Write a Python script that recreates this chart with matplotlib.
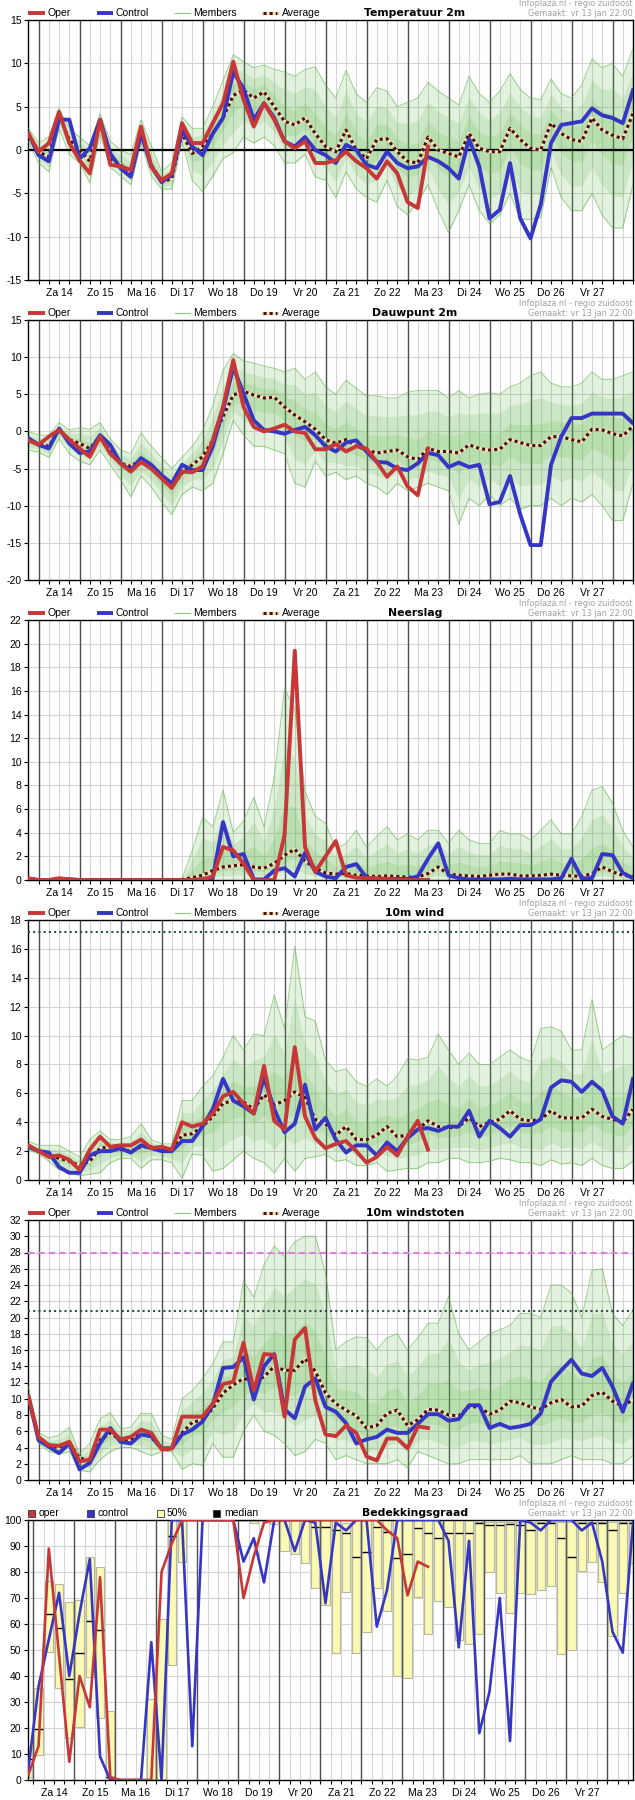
import numpy as np
import matplotlib
matplotlib.use("Agg")
import matplotlib.pyplot as plt
from matplotlib.lines import Line2D
from matplotlib.patches import Rectangle

# time axis: 6-hourly steps, index 0 = vr 13 jan 18:00, labels at noon
days = ["Za 14", "Zo 15", "Ma 16", "Di 17", "Wo 18", "Do 19", "Vr 20",
        "Za 21", "Zo 22", "Ma 23", "Di 24", "Wo 25", "Do 26", "Vr 27"]

# Temperatuur 2m
temp_oper = [1.9, -0.2, 0.8, 4.4, 0.8, -1.2, -2.7, 3.5, -1.7, -1.9, -2.3, 2.7, -1.9, -3.5, -2.7, 3.1, 0.8, 0.8, 3.1, 5.4,
             10.2, 5.8, 2.7, 5.4, 3.5, 1.0, 0.2, 1.0, -1.5, -1.5, -1.2, -0.2, -1.3, -2.1, -3.3, -1.3, -2.7, -6.0, -6.7, 0.4]
temp_ctrl = [1.9, -0.6, -1.3, 3.5, 3.5, -1.0, 0.2, 3.5, -0.4, -2.1, -3.1, 1.9, -1.9, -3.7, -2.9, 2.3, 0.4, -0.6, 1.9, 3.7,
             9.0, 7.1, 3.5, 5.4, 3.7, 1.0, 0.4, 1.5, 0.0, -0.6, -1.5, 0.6, 0.0, -1.7, -2.1, -0.2, -1.5, -2.1, -1.9, -0.8,
             -1.3, -2.1, -3.3, 1.3, -1.9, -7.9, -6.9, -1.5, -7.9, -10.2, -6.3, 0.8, 2.9, 3.1, 3.3, 4.8, 4.0, 3.7, 3.1, 6.9]
temp_avg = [1.9, -0.2, -0.8, 4.0, 1.2, 0.0, -1.3, 3.1, -1.0, -1.7, -2.7, 2.1, -1.7, -3.7, -3.3, 1.9, -0.4, 0.4, 1.9, 3.7,
            6.3, 6.9, 6.0, 6.7, 5.0, 3.3, 2.9, 3.7, 1.9, 0.4, -0.2, 2.3, 0.0, -1.0, 1.2, 1.3, -0.2, -1.3, -1.5, 1.5,
            0.0, -0.4, -0.8, 1.9, 0.2, -0.2, -0.2, 2.5, 1.2, 0.2, 0.0, 3.1, 1.9, 1.2, 1.0, 3.7, 2.3, 1.7, 1.3, 4.2]
temp_hi = [2.5, 0.8, 1.5, 4.8, 2.5, 1.5, 0.5, 4.2, 1.0, 0.0, -0.5, 3.5, 0.5, -2.5, -1.5, 3.8, 2.5, 2.5, 5.0, 8.0,
           11.0, 10.2, 9.5, 9.8, 9.3, 9.0, 8.5, 9.3, 9.6, 7.5, 6.0, 9.2, 6.5, 5.5, 7.2, 6.8, 5.0, 5.5, 6.0, 7.8,
           6.8, 6.0, 5.2, 8.5, 6.5, 5.5, 6.8, 8.8, 7.0, 6.0, 5.8, 8.2, 6.5, 6.0, 7.5, 10.5, 9.5, 10.0, 8.5, 11.7]
temp_lo = [1.0, -1.5, -2.5, 2.5, -0.5, -1.5, -3.8, 1.8, -2.0, -3.0, -4.0, 0.8, -3.0, -4.5, -4.5, 1.0, -3.5, -4.8, -3.0, -1.0,
           -0.3, 1.5, 0.8, 1.5, 0.5, -1.5, -1.5, -0.5, -3.1, -3.5, -5.5, -2.5, -4.5, -5.5, -6.0, -3.5, -6.5, -7.5, -6.0, -4.0,
           -7.0, -9.5, -7.0, -4.0, -7.0, -8.5, -7.5, -5.0, -8.0, -8.0, -7.8, -2.0, -5.5, -7.0, -7.0, -5.0, -7.5, -9.0, -9.0, -4.0]

# Dauwpunt 2m
dew_oper = [-1.2, -1.8, -0.7, 0.2, -1.1, -2.3, -3.4, -0.7, -3.0, -4.3, -5.4, -4.1, -5.0, -6.3, -7.6, -5.4, -5.5, -4.7, -1.2, 3.3,
            9.6, 3.3, 0.6, 0.0, 0.4, 0.9, 0.0, -0.2, -2.4, -2.4, -1.7, -2.7, -2.0, -2.3, -4.1, -6.1, -4.7, -7.4, -8.6, -2.3]
dew_ctrl = [-0.9, -1.8, -2.3, 0.4, -1.6, -2.9, -2.7, -0.5, -1.8, -4.3, -5.2, -3.6, -4.5, -5.9, -7.0, -4.5, -5.2, -5.2, -2.0, 2.9,
            8.7, 5.1, 1.5, 0.2, 0.0, -0.3, 0.2, 0.6, -0.5, -2.0, -2.7, -1.5, -1.2, -2.7, -4.1, -4.2, -5.0, -5.2, -4.3, -2.9,
            -3.2, -4.8, -4.2, -4.8, -4.5, -9.8, -9.5, -6.0, -11.2, -15.3, -15.3, -4.5, -0.7, 1.8, 1.8, 2.4, 2.4, 2.4, 2.4, 1.1]
dew_avg = [-1.2, -1.6, -2.0, 0.2, -1.1, -1.6, -2.3, -0.7, -2.7, -4.3, -4.7, -3.8, -4.7, -6.3, -7.6, -5.6, -4.5, -3.4, -1.2, 2.0,
           4.9, 5.4, 4.9, 4.5, 4.6, 3.3, 2.2, 1.3, 0.3, -1.1, -1.6, -1.1, -2.0, -2.5, -2.9, -2.7, -2.5, -3.4, -3.8, -2.3,
           -2.7, -2.7, -2.9, -1.8, -2.3, -2.5, -2.4, -1.1, -1.5, -1.9, -1.9, -0.7, -0.7, -1.1, -1.4, 0.3, 0.2, -0.3, -0.6, 0.7]
dew_hi = [0.0, -0.5, -0.5, 1.2, 0.2, 0.5, 0.3, 1.2, -1.0, -2.5, -3.0, -0.2, -2.0, -3.5, -5.0, -3.5, -2.0, 0.0, 3.5, 8.2,
          10.5, 9.5, 9.2, 8.8, 8.5, 8.0, 8.5, 7.0, 8.0, 6.0, 5.0, 6.9, 5.8, 4.8, 4.8, 4.5, 4.5, 5.3, 5.5, 5.5,
          5.5, 4.5, 5.5, 4.5, 5.0, 5.2, 5.0, 6.0, 6.5, 7.5, 8.0, 6.5, 6.0, 6.0, 6.5, 8.0, 7.0, 7.0, 7.5, 8.0]
dew_lo = [-2.5, -2.8, -3.5, -1.0, -3.0, -4.0, -4.5, -2.5, -4.5, -6.5, -8.8, -6.0, -7.5, -9.5, -11.2, -8.5, -7.5, -8.0, -7.0, -3.0,
          1.5, -0.5, -2.0, -2.0, -2.5, -3.0, -7.0, -7.5, -4.0, -6.0, -5.5, -6.5, -6.0, -7.0, -7.5, -8.5, -7.0, -8.0, -7.5, -7.0,
          -7.5, -8.0, -12.5, -9.0, -10.0, -8.5, -10.0, -9.0, -10.5, -10.0, -10.0, -9.0, -10.0, -9.0, -9.5, -8.5, -10.0, -12.0, -12.0, -7.0]

# Neerslag
rain_oper = [0.15, 0.0, 0.0, 0.15, 0.05, 0.0, 0.0, 0.0, 0.0, 0.0, 0.0, 0.0, 0.0, 0.0, 0.0, 0.0, 0.0, 0.05, 0.3, 2.8,
             2.5, 1.4, 0.0, 0.0, 0.0, 3.8, 19.4, 2.8, 0.7, 2.0, 3.3, 0.4, 0.2, 0.15, 0.15, 0.1, 0.05, 0.0, 0.0, 0.0]
rain_ctrl = [0.1, 0.0, 0.0, 0.05, 0.05, 0.0, 0.0, 0.0, 0.0, 0.0, 0.0, 0.0, 0.0, 0.0, 0.0, 0.0, 0.0, 0.05, 0.15, 4.9,
             2.0, 2.2, 0.05, 0.05, 0.8, 1.0, 0.3, 2.3, 0.7, 0.3, 0.15, 1.1, 1.35, 0.2, 0.1, 0.1, 0.1, 0.1, 0.3, 1.8,
             3.1, 0.4, 0.15, 0.05, 0.05, 0.05, 0.05, 0.1, 0.05, 0.05, 0.05, 0.05, 0.15, 1.8, 0.15, 0.15, 2.2, 2.1, 0.6, 0.15]
rain_avg = [0.05, 0.0, 0.0, 0.0, 0.0, 0.0, 0.0, 0.0, 0.0, 0.0, 0.0, 0.0, 0.0, 0.0, 0.0, 0.05, 0.2, 0.4, 0.8, 1.1,
            1.2, 1.3, 1.1, 1.0, 1.4, 2.1, 2.6, 1.6, 1.0, 0.6, 0.5, 0.55, 0.4, 0.35, 0.3, 0.35, 0.3, 0.25, 0.25, 0.55,
            1.1, 0.5, 0.4, 0.35, 0.3, 0.4, 0.5, 0.5, 0.35, 0.35, 0.4, 0.5, 0.4, 0.35, 0.3, 0.55, 1.1, 0.7, 0.4, 0.3]
rain_hi = [0.2, 0.1, 0.1, 0.2, 0.2, 0.05, 0.05, 0.05, 0.05, 0.05, 0.05, 0.05, 0.05, 0.05, 0.05, 0.1, 2.5, 5.3, 4.5, 7.6,
           4.0, 5.0, 7.0, 4.5, 8.7, 16.2, 14.5, 7.5, 5.4, 4.8, 2.7, 3.1, 4.2, 2.8, 3.7, 4.5, 3.4, 3.9, 3.4, 4.2,
           4.2, 3.1, 4.2, 3.4, 3.1, 3.1, 4.2, 3.9, 3.9, 3.4, 4.2, 5.1, 3.9, 3.9, 5.4, 7.6, 7.9, 6.5, 4.2, 2.8]
rain_lo = [0.0] * 60

# 10m wind
wind_oper = [2.4, 2.0, 1.6, 1.7, 1.4, 0.7, 2.1, 3.0, 2.3, 2.4, 2.4, 2.8, 2.2, 2.3, 2.1, 4.0, 3.7, 3.9, 4.6, 5.8,
             6.1, 5.3, 4.6, 7.9, 4.1, 3.5, 9.2, 4.4, 2.9, 2.2, 2.5, 2.7, 2.0, 1.2, 1.6, 2.3, 1.7, 3.0, 4.1, 2.1]
wind_ctrl = [2.3, 2.0, 1.9, 0.9, 0.5, 0.5, 1.7, 2.0, 2.0, 2.2, 1.9, 2.4, 2.2, 2.0, 2.0, 2.7, 2.7, 3.7, 4.9, 7.0,
             5.5, 5.1, 4.6, 7.1, 4.9, 3.3, 3.9, 6.6, 3.5, 4.3, 2.8, 1.9, 2.4, 2.4, 1.7, 2.6, 2.0, 2.9, 3.5, 3.6,
             3.4, 3.7, 3.7, 4.8, 3.0, 4.1, 3.6, 3.0, 3.8, 3.8, 4.2, 6.4, 6.9, 6.8, 6.1, 6.8, 6.2, 4.4, 3.9, 7.0]
wind_avg = [2.4, 2.0, 1.7, 1.5, 1.3, 1.0, 1.3, 2.2, 2.3, 2.1, 2.0, 2.3, 2.3, 2.1, 2.0, 3.1, 3.2, 3.7, 4.4, 5.3,
            5.5, 5.4, 4.9, 5.9, 5.2, 5.5, 6.1, 5.7, 4.2, 3.9, 3.1, 3.7, 2.8, 2.8, 3.1, 3.7, 3.0, 3.1, 3.5, 4.1,
            3.7, 3.6, 3.7, 4.3, 3.7, 4.0, 4.2, 4.8, 4.2, 4.1, 4.2, 4.8, 4.3, 4.3, 4.3, 4.9, 4.4, 4.2, 4.0, 4.9]
wind_hi = [2.7, 2.4, 2.4, 2.4, 2.0, 1.6, 2.8, 3.4, 2.8, 2.8, 3.0, 3.9, 2.8, 2.5, 2.5, 5.5, 5.5, 6.5, 7.2, 8.5,
           10.0, 9.0, 10.1, 10.0, 12.8, 10.5, 16.2, 11.3, 11.0, 8.3, 7.5, 7.7, 6.8, 6.5, 7.0, 6.5, 7.2, 8.4, 8.3, 8.5,
           10.1, 9.0, 8.0, 8.8, 8.0, 8.0, 8.5, 9.0, 8.5, 8.2, 10.5, 10.6, 10.3, 9.0, 9.0, 12.5, 9.0, 9.5, 10.0, 9.8]
wind_lo = [2.1, 1.8, 1.3, 0.7, 0.5, 0.3, 0.4, 0.5, 1.2, 1.5, 1.5, 0.8, 1.4, 1.4, 1.2, 0.1, 1.8, 1.7, 0.6, 0.8,
           1.4, 2.0, 1.5, 1.2, 0.5, 1.5, 0.6, 1.5, 1.6, 1.8, 1.3, 1.4, 1.0, 1.0, 1.2, 0.6, 0.7, 0.8, 0.8, 1.2,
           1.2, 1.5, 1.5, 1.2, 1.2, 1.3, 1.5, 1.4, 1.2, 1.2, 1.0, 1.4, 1.1, 1.2, 1.0, 1.5, 1.0, 0.8, 0.8, 1.3]
wind_limit = 17.2

# 10m windstoten
gust_oper = [10.3, 5.3, 4.3, 4.2, 4.7, 2.3, 2.5, 6.2, 6.2, 5.0, 5.3, 6.2, 5.8, 3.8, 3.9, 7.8, 7.8, 7.8, 9.4, 11.8,
             12.1, 16.9, 11.0, 15.5, 15.4, 7.8, 17.3, 18.7, 9.8, 5.6, 5.4, 6.7, 5.8, 2.9, 2.4, 5.1, 5.1, 3.9, 6.6, 6.4]
gust_ctrl = [10.3, 4.9, 4.1, 3.3, 4.5, 1.3, 2.1, 4.5, 6.4, 4.7, 4.5, 5.6, 5.4, 3.9, 3.9, 5.6, 6.2, 7.2, 9.2, 13.8,
             13.9, 15.1, 9.9, 14.0, 15.5, 8.7, 7.6, 11.5, 12.5, 9.0, 8.4, 7.0, 4.5, 5.0, 5.3, 6.2, 5.8, 5.8, 6.9, 8.1,
             8.1, 7.3, 7.5, 9.2, 9.2, 6.4, 6.9, 6.4, 6.6, 6.9, 8.2, 12.1, 13.5, 14.8, 13.1, 12.8, 13.8, 11.5, 8.4, 11.9]
gust_avg = [10.3, 5.1, 4.2, 4.0, 4.6, 2.7, 2.4, 4.9, 5.8, 4.9, 5.0, 5.7, 5.3, 3.8, 3.8, 5.8, 7.1, 7.4, 8.8, 10.7,
            11.7, 12.5, 12.1, 12.7, 14.0, 13.5, 13.5, 14.9, 13.4, 10.7, 9.4, 8.6, 7.9, 6.4, 6.7, 8.2, 8.6, 6.7, 7.4, 8.7,
            8.6, 8.0, 7.9, 9.0, 9.0, 8.1, 8.6, 9.7, 9.5, 9.0, 8.7, 9.5, 9.9, 9.0, 9.1, 10.4, 10.8, 9.7, 9.1, 9.9]
gust_hi = [11.5, 5.8, 5.2, 5.5, 6.5, 3.2, 4.5, 7.5, 8.3, 6.3, 6.5, 8.2, 8.2, 5.5, 5.0, 10.0, 11.0, 12.5, 14.3, 17.0,
           17.0, 24.5, 22.5, 26.5, 28.8, 27.5, 29.3, 30.0, 30.0, 25.5, 16.0, 17.0, 17.6, 17.5, 16.0, 17.5, 18.0, 16.0, 17.5, 19.3,
           19.3, 22.6, 18.0, 16.0, 17.0, 18.0, 18.5, 19.0, 20.5, 20.5, 20.0, 24.0, 24.0, 23.0, 20.0, 25.8, 26.0, 20.5, 19.0, 21.0]
gust_lo = [10.0, 4.5, 3.5, 3.2, 3.5, 1.2, 1.0, 2.5, 3.5, 4.0, 4.0, 3.5, 3.0, 3.5, 3.5, 1.3, 2.0, 1.8, 4.5, 2.8,
           2.8, 6.0, 8.0, 6.0, 5.5, 4.5, 3.0, 3.5, 5.0, 4.5, 2.5, 3.0, 2.5, 2.0, 2.0, 2.0, 2.5, 1.5, 3.5, 3.0,
           2.5, 2.0, 2.0, 2.5, 2.5, 2.5, 2.5, 2.5, 3.0, 2.0, 2.0, 2.0, 2.5, 3.0, 2.5, 2.5, 2.5, 2.0, 2.0, 3.0]
gust_limit_hi = 27.9
gust_limit_lo = 20.8

# Bedekkingsgraad
cloud_oper = [2, 13, 89, 48, 7, 40, 28, 78, 1, 0, 0, 0, 0, 80, 91, 100, 100, 100, 100, 100,
              100, 70, 86, 99, 100, 100, 100, 100, 100, 100, 100, 100, 100, 100, 100, 96, 93, 71, 84, 82]
cloud_ctrl = [4, 36, 54, 72, 40, 64, 85, 9, 0, 0, 0, 0, 53, 0, 100, 100, 13, 100, 100, 100,
              100, 84, 93, 76, 100, 100, 88, 100, 99, 68, 99, 96, 100, 100, 59, 73, 100, 100, 100, 100,
              100, 92, 51, 92, 18, 34, 70, 15, 100, 99, 96, 100, 100, 100, 96, 99, 84, 57, 49, 99]
cloud_p25 = [1, 9.6, 49.4, 35.3, 16, 20.5, 39.5, 23.7, 0.6, 0, 0, 0, 0, 0, 44.2, 84, 100, 100, 100, 100,
             100, 100, 98.7, 100, 98.5, 88, 87, 83.3, 73.7, 67.3, 48.7, 72.4, 48.7, 57, 73.7, 65, 40.1, 39.1, 70.3, 56,
             68.8, 66.4, 53.8, 52.3, 56.2, 80, 71.8, 64.4, 71.8, 71.4, 73, 74.6, 48.3, 50, 80.4, 84, 76.3, 55.4, 71.8, 83.3]
cloud_p75 = [13, 35.3, 76.5, 75.3, 68.3, 69.2, 85.6, 82, 26.7, 0, 0, 0, 31, 62, 100, 100, 100, 100, 100, 100,
             100, 100, 100, 100, 100, 100, 100, 100, 100, 100, 100, 99, 100, 100, 100, 100, 100, 100, 100, 100,
             100, 100, 100, 100, 99.4, 99.4, 99.4, 99.4, 99.4, 99.4, 99.4, 99.4, 99.4, 99.4, 99.4, 99.4, 99.4, 99.4, 99.4, 99.4]
cloud_med = [8, 19.5, 63.7, 58.3, 38.7, 48.7, 61, 57.7, 1, 0, 0, 0, 0, 0, 94, 100, 100, 100, 100, 100,
             100, 100, 100, 100, 100, 100, 100, 100, 97.4, 97.4, 96, 94.9, 85.9, 87.8, 97.4, 95.3, 85.3, 86.9, 96.8, 94.9,
             92.9, 94.9, 94.9, 94.9, 98.7, 98, 98, 98.5, 98, 96, 98.7, 98.7, 92.9, 85.9, 98.7, 98.7, 98.7, 96, 98.7, 98.7]

RED = '#c83737'
BLUE = '#3636c4'
GREEN = '#5cb445'
BROWN = '#4a0e04'
CREAM = '#f2e2bf'
LIGHT = '#d4d4d4'
DARK = '#505050'
YELLOW = '#fafab4'

plt.rcParams['font.family'] = ['Liberation Sans', 'DejaVu Sans']

W, H = 635, 1800
fig = plt.figure(figsize=(W / 100, H / 100), dpi=100)
fig.patch.set_facecolor('white')


def fx(x):
    return x / W


def fy(y):
    return 1 - y / H


def seg(x0, x1, y, **kw):
    fig.add_artist(Line2D([fx(x0), fx(x1)], [fy(y), fy(y)], transform=fig.transFigure, **kw))


def label(x, y, s):
    fig.text(fx(x), fy(y), s, ha='left', va='center', fontsize=7.5)


def header(top, title):
    fig.text(fx(415), fy(top - 7), title, ha='center', va='center', fontsize=7.8,
             fontweight='bold', family='DejaVu Sans')
    fig.text(fx(633), fy(top - 16), "Infoplaza.nl - regio zuidoost", ha='right', va='center',
             fontsize=5.9, color='#a0a0a0', family='DejaVu Sans')
    fig.text(fx(633), fy(top - 6), "Gemaakt: vr 13 jan 22:00", ha='right', va='center',
             fontsize=5.9, color='#a0a0a0', family='DejaVu Sans')


def line_legend(top):
    y = top - 7
    seg(28, 45, y, color=RED, lw=2.8, solid_capstyle='butt')
    label(47.7, y, "Oper")
    seg(97, 113, y, color=BLUE, lw=2.8, solid_capstyle='butt')
    label(115.7, y, "Control")
    seg(175, 190, y, color=GREEN, lw=0.8, alpha=0.7)
    label(193, y, "Members")
    seg(263, 277, y, color=CREAM, lw=2.2)
    seg(263, 277, y, color=BROWN, lw=2.2, ls=(0, (1, 1)))
    label(282, y, "Average")


def make_axes(top, ylim, ystep, day_offset):
    ax = fig.add_axes([fx(28.3), fy(top + 260), fx(633) - fx(28.3), 260 / H])
    ax.set_xlim(0, 59)
    ax.set_ylim(*ylim)
    yt = np.arange(ylim[0], ylim[1] + 0.01, ystep)
    ax.set_yticks(yt)
    ax.set_yticklabels([str(int(v)) for v in yt])
    for v in yt:
        ax.axhline(v, color=LIGHT, lw=0.8, zorder=0)
    grid_x = np.arange(day_offset - 2, 60, 1.0)
    grid_x = grid_x[(grid_x >= 0) & (grid_x <= 59)]
    for gx in grid_x:
        ax.axvline(gx, color=LIGHT, lw=0.8, zorder=0)
    for gx in np.arange(day_offset - 2, 60, 4.0):
        if 0 < gx < 59:
            ax.axvline(gx, color=DARK, lw=1.0, zorder=1)
    ax.set_xticks([day_offset + 4 * k for k in range(len(days))])
    ax.set_xticklabels(days)
    ax.set_xticks(grid_x, minor=True)
    ax.tick_params(axis='x', which='both', length=3, width=0.8, labelsize=7.5, pad=2.5)
    ax.tick_params(axis='y', length=3, width=0.8, labelsize=7.5, pad=2)
    for s in ax.spines.values():
        s.set_color('black')
        s.set_linewidth(1.0)
    return ax


def line_panel(top, title, ylim, ystep, oper, ctrl, avg, hi, lo):
    header(top, title)
    line_legend(top)
    ax = make_axes(top, ylim, ystep, 3)
    x = np.arange(len(ctrl))
    a, h, l = np.array(avg), np.array(hi), np.array(lo)
    for f in (1.0, 0.65, 0.3):
        ax.fill_between(x, a + f * (l - a), a + f * (h - a), color=GREEN, alpha=0.17, lw=0, zorder=2)
    ax.plot(x, hi, color=GREEN, lw=0.7, alpha=0.6, zorder=3)
    ax.plot(x, lo, color=GREEN, lw=0.7, alpha=0.6, zorder=3)
    ax.plot(x, avg, color=CREAM, lw=2.2, zorder=5)
    ax.plot(x, avg, color=BROWN, lw=2.2, ls=(0, (1, 1)), zorder=6)
    ax.plot(x, ctrl, color=BLUE, lw=2.8, zorder=7)
    ax.plot(np.arange(len(oper)), oper, color=RED, lw=2.8, zorder=8)
    return ax


ax1 = line_panel(20, "Temperatuur 2m", (-15, 15), 5, temp_oper, temp_ctrl, temp_avg, temp_hi, temp_lo)
ax1.axhline(0, color='black', lw=1.6, zorder=4)

line_panel(320, "Dauwpunt 2m", (-20, 15), 5, dew_oper, dew_ctrl, dew_avg, dew_hi, dew_lo)

line_panel(620, "Neerslag", (0, 22), 2, rain_oper, rain_ctrl, rain_avg, rain_hi, rain_lo)

ax4 = line_panel(920, "10m wind", (0, 18), 2, wind_oper, wind_ctrl, wind_avg, wind_hi, wind_lo)
ax4.axhline(wind_limit, color='#2f4f4f', lw=1.5, ls=(0, (1, 1.5)), zorder=4)

ax5 = line_panel(1220, "10m windstoten", (0, 32), 2, gust_oper, gust_ctrl, gust_avg, gust_hi, gust_lo)
ax5.axhline(gust_limit_hi, color='#e07ee0', lw=1.5, ls=(0, (3, 2)), zorder=4)
ax5.axhline(gust_limit_lo, color='#2f4f4f', lw=1.5, ls=(0, (1, 1.5)), zorder=4)

# Bedekkingsgraad
top = 1520
header(top, "Bedekkingsgraad")
y = top - 7
for x0, col, x_t, txt in [(28, RED, 39, "oper"), (87, BLUE, 97, "control"),
                          (157, YELLOW, 167, "50%"), (213, 'black', 224, "median")]:
    fig.add_artist(Rectangle((fx(x0), fy(y + 3.5)), 7 / W, 7 / H, transform=fig.transFigure,
                             facecolor=col, edgecolor='#333333', lw=0.6))
    label(x_t, y, txt)

ax6 = make_axes(top, (0, 100), 10, 2.5)
xc = np.arange(len(cloud_ctrl))
p25 = np.array(cloud_p25)
p75 = np.array(cloud_p75)
ax6.bar(xc, p75 - p25, bottom=p25, width=0.8, color=YELLOW, edgecolor='#b8b8a0', lw=0.8, zorder=2)
ax6.hlines(cloud_med, xc - 0.4, xc + 0.4, color='black', lw=1.0, zorder=3)
ax6.plot(xc, cloud_ctrl, color=BLUE, lw=1.9, zorder=5)
ax6.plot(np.arange(len(cloud_oper)), cloud_oper, color=RED, lw=1.9, zorder=6)

fig.savefig("out.png", dpi=100, facecolor='white')
